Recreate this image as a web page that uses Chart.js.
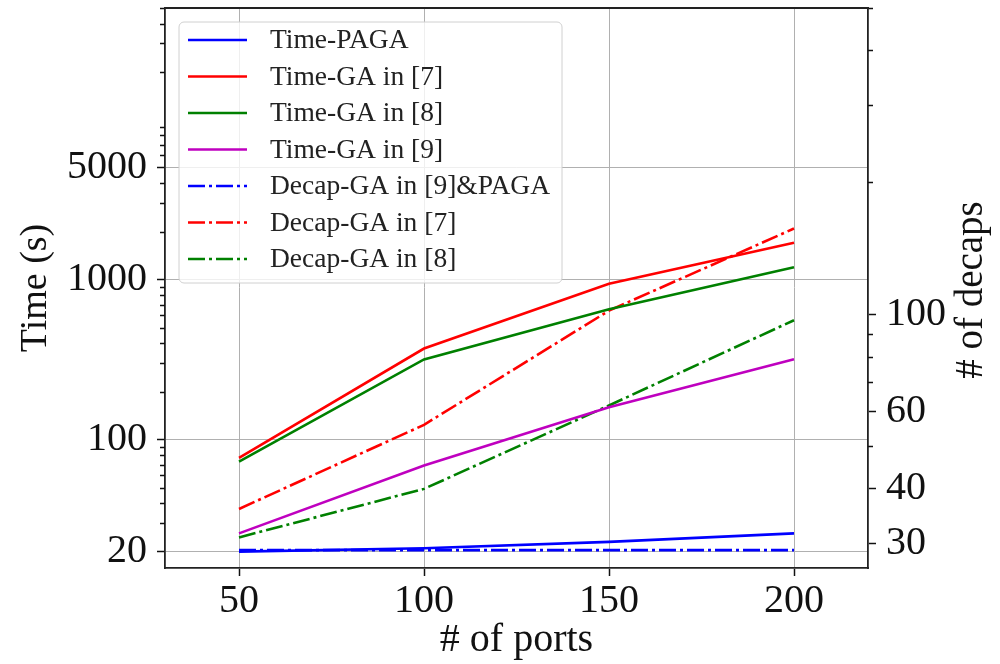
<!DOCTYPE html>
<html>
<head>
<meta charset="utf-8">
<script src="https://cdn.jsdelivr.net/npm/chart.js@4/dist/chart.umd.min.js"></script>
<style>
  html, body { margin: 0; padding: 0; background: #fff; }
</style>
</head>
<body>
<canvas id="chart" width="1000" height="664"></canvas>
<script>
// x values: number of ports
const ports = [50, 100, 150, 200];

// run time in seconds (left axis)
const timePAGA = [20, 21, 23, 26];
const timeGA7 = [77, 372, 944, 1706];
const timeGA8 = [73, 318, 655, 1197];
const timeGA9 = [26, 69, 160, 319];

// number of decaps (right axis)
const decapPAGA = [29, 29, 29, 29];
const decapGA7 = [36, 56, 102, 157];
const decapGA8 = [31, 40, 62, 97];

// labelled ticks
const xTicks = [50, 100, 150, 200];
const timeTicks = [20, 100, 1000, 5000];
const decapTicks = [30, 40, 60, 100];

const serif = "'Liberation Serif', 'Times New Roman', serif";
const dashDot = [17, 4, 3, 4];

function series(label, values, color, axis, dash) {
    return {
        label: label,
        data: ports.map((p, i) => ({ x: p, y: values[i] })),
        borderColor: color,
        backgroundColor: color,
        borderWidth: 2.6,
        borderDash: dash,
        yAxisID: axis,
        pointRadius: 0,
        tension: 0,
        fill: false
    };
}

// log minor ticks (2..9 x 10^n) between min and max, skipping labelled ones
function minorTicks(min, max, skip) {
    const out = [];
    for (let e = Math.floor(Math.log10(min)); e <= Math.ceil(Math.log10(max)); e++) {
        for (let m = 2; m <= 9; m++) {
            const v = m * Math.pow(10, e);
            if (v >= min && v <= max && !skip.includes(v)) out.push(v);
        }
    }
    return out;
}

// fixed box sizes, no extra label padding
function fixBox(size) {
    return s => {
        if (s.isHorizontal()) s.height = size; else s.width = size;
        s.paddingTop = 0;
        s.paddingBottom = 0;
        s.paddingLeft = 0;
        s.paddingRight = 0;
    };
}

// frame top, minor ticks, right axis title and the boxed legend
const extras = {
    id: "extras",
    afterDraw(chart) {
        const ctx = chart.ctx;
        const a = chart.chartArea;
        const yL = chart.scales.y;
        const yR = chart.scales.y1;
        ctx.save();

        // minor ticks
        ctx.strokeStyle = "#111";
        ctx.lineWidth = 1.3;
        ctx.beginPath();
        minorTicks(yL.min, yL.max, timeTicks).forEach(v => {
            const py = Math.round(yL.getPixelForValue(v)) + 0.5;
            ctx.moveTo(a.left, py);
            ctx.lineTo(a.left - 5, py);
        });
        minorTicks(yR.min, yR.max, decapTicks).forEach(v => {
            const py = Math.round(yR.getPixelForValue(v)) + 0.5;
            ctx.moveTo(a.right, py);
            ctx.lineTo(a.right + 5, py);
        });
        ctx.stroke();

        // top border
        ctx.strokeStyle = "#222";
        ctx.lineWidth = 1.8;
        ctx.beginPath();
        ctx.moveTo(a.left - 1, a.top);
        ctx.lineTo(a.right + 1, a.top);
        ctx.stroke();

        // right title, reading bottom to top
        ctx.fillStyle = "#111";
        ctx.font = "39px " + serif;
        ctx.textAlign = "center";
        ctx.textBaseline = "middle";
        ctx.translate(972, (a.top + a.bottom) / 2 + 2);
        ctx.rotate(-Math.PI / 2);
        ctx.fillText("# of decaps", 0, 0);
        ctx.setTransform(1, 0, 0, 1, 0, 0);

        // legend
        const lx = 179, ly = 22, lw = 383, lh = 261;
        ctx.beginPath();
        ctx.roundRect(lx, ly, lw, lh, 5);
        ctx.fillStyle = "rgba(255,255,255,0.8)";
        ctx.fill();
        ctx.strokeStyle = "#d0d0d0";
        ctx.lineWidth = 1;
        ctx.stroke();

        ctx.font = "27.5px " + serif;
        ctx.textAlign = "left";
        chart.data.datasets.forEach((ds, i) => {
            const y = 40 + i * 36.5;
            ctx.strokeStyle = ds.borderColor;
            ctx.lineWidth = 2.6;
            ctx.setLineDash(ds.borderDash || []);
            ctx.beginPath();
            ctx.moveTo(188, y);
            ctx.lineTo(247, y);
            ctx.stroke();
            ctx.setLineDash([]);
            ctx.fillStyle = "#222";
            ctx.fillText(ds.label, 270, y + 1);
        });
        ctx.restore();
    }
};

new Chart(document.getElementById("chart"), {
    type: "line",
    data: {
        datasets: [
            series("Time-PAGA", timePAGA, "#0000ff", "y", []),
            series("Time-GA in [7]", timeGA7, "#ff0000", "y", []),
            series("Time-GA in [8]", timeGA8, "#008000", "y", []),
            series("Time-GA in [9]", timeGA9, "#bf00bf", "y", []),
            series("Decap-GA in [9]&PAGA", decapPAGA, "#0000ff", "y1", dashDot),
            series("Decap-GA in [7]", decapGA7, "#ff0000", "y1", dashDot),
            series("Decap-GA in [8]", decapGA8, "#008000", "y1", dashDot)
        ]
    },
    options: {
        responsive: false,
        animation: false,
        devicePixelRatio: 1,
        layout: { padding: { top: 8, left: 0, right: 0, bottom: 0 } },
        plugins: {
            legend: { display: false },
            tooltip: { enabled: false }
        },
        scales: {
            x: {
                type: "linear",
                position: "bottom",
                min: 30,
                max: 220,
                afterBuildTicks: s => { s.ticks = xTicks.map(v => ({ value: v })); },
                afterFit: fixBox(96),
                grid: { color: "#b0b0b0", lineWidth: 1, tickLength: 8, tickColor: "#111", tickWidth: 1.5 },
                border: { color: "#222", width: 1.8 },
                ticks: {
                    color: "#111",
                    font: { family: serif, size: 40 },
                    padding: 1,
                    maxRotation: 0,
                    callback: v => String(v)
                },
                title: {
                    display: true,
                    text: "# of ports",
                    color: "#111",
                    font: { family: serif, size: 40, lineHeight: 1.2 },
                    padding: { top: 0, bottom: 0 }
                }
            },
            y: {
                type: "logarithmic",
                position: "left",
                min: 15.8,
                max: 50000,
                afterBuildTicks: s => { s.ticks = timeTicks.map(v => ({ value: v })); },
                afterFit: fixBox(165),
                grid: { color: "#b0b0b0", lineWidth: 1, tickLength: 8, tickColor: "#111", tickWidth: 1.5 },
                border: { color: "#222", width: 1.8 },
                ticks: {
                    color: "#111",
                    font: { family: serif, size: 40 },
                    padding: 10,
                    callback: v => String(v)
                },
                title: {
                    display: true,
                    text: "Time (s)",
                    color: "#111",
                    font: { family: serif, size: 38, lineHeight: 1.2 },
                    padding: { top: 13, bottom: 0 }
                }
            },
            y1: {
                type: "logarithmic",
                position: "right",
                min: 26.4,
                max: 500,
                afterBuildTicks: s => { s.ticks = decapTicks.map(v => ({ value: v })); },
                afterFit: fixBox(132),
                grid: { drawOnChartArea: false, tickLength: 8, tickColor: "#111", tickWidth: 1.5 },
                border: { color: "#222", width: 1.8 },
                ticks: {
                    color: "#111",
                    font: { family: serif, size: 40 },
                    padding: 10,
                    callback: v => String(v)
                }
            }
        }
    },
    plugins: [extras]
});
</script>
</body>
</html>
